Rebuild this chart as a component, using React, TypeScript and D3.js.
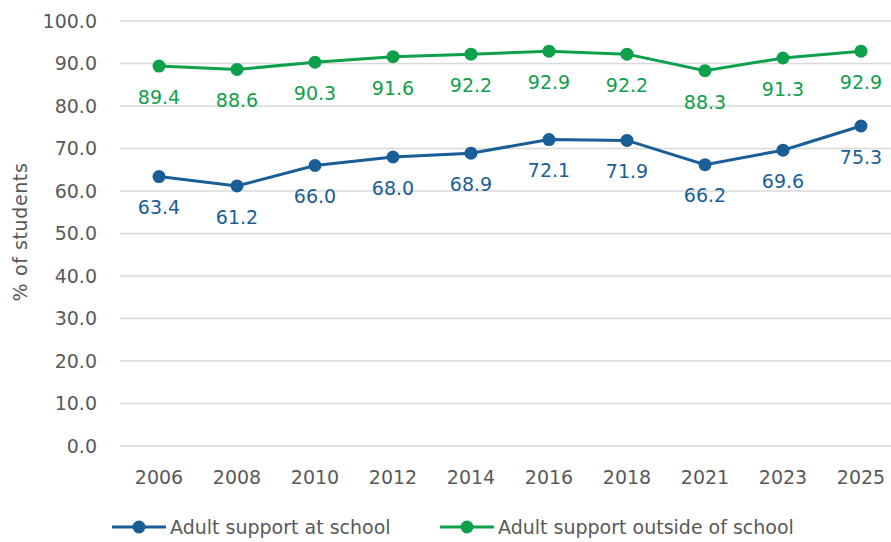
import React from "react";
import * as d3 from "d3";

const years = ["2006", "2008", "2010", "2012", "2014", "2016", "2018", "2021", "2023", "2025"];
const atSchool = [63.4, 61.2, 66.0, 68.0, 68.9, 72.1, 71.9, 66.2, 69.6, 75.3];
const outsideSchool = [89.4, 88.6, 90.3, 91.6, 92.2, 92.9, 92.2, 88.3, 91.3, 92.9];
const yTicks = [0, 10, 20, 30, 40, 50, 60, 70, 80, 90, 100];
const seriesNames = ["Adult support at school", "Adult support outside of school"];

const W = 891, H = 542;
const BLUE = "#195E97";
const GREEN = "#0EA04B";
const TEXT = "#595959";
const FONT = "'DejaVu Sans', sans-serif";
const FS = 19;

export default function App() {
  const x = d3.scaleBand<string>().domain(years).range([120, 900]);
  const y = d3.scaleLinear().domain([0, 100]).range([446, 21]);
  const cx = (d: string) => (x(d) ?? 0) + x.bandwidth() / 2;
  const line = d3.line<number>().x((_, i) => cx(years[i])).y((v) => y(v));
  const series = [
    { name: seriesNames[0], values: atSchool, color: BLUE },
    { name: seriesNames[1], values: outsideSchool, color: GREEN },
  ];
  const legend = [
    { x0: 112, color: BLUE, name: seriesNames[0] },
    { x0: 440, color: GREEN, name: seriesNames[1] },
  ];
  return (
    <svg width={W} height={H} style={{ position: "absolute", left: 0, top: 0, background: "#fff" }} fontFamily={FONT}>
      {yTicks.map((t) => (
        <g key={t}>
          <line x1={120} x2={891} y1={y(t)} y2={y(t)} stroke="#d9d9d9" strokeWidth={1.5} />
          <text x={97} y={y(t)} dy="0.36em" textAnchor="end" fontSize={FS} fill={TEXT}>
            {t.toFixed(1)}
          </text>
        </g>
      ))}
      <text transform={`translate(27,232) rotate(-90)`} textAnchor="middle" fontSize={FS} fill={TEXT} letterSpacing={0.6}>
        % of students
      </text>
      {years.map((yr) => (
        <text key={yr} x={cx(yr)} y={477} dy="0.36em" textAnchor="middle" fontSize={FS} fill={TEXT}>
          {yr}
        </text>
      ))}
      {series.map((s) => (
        <g key={s.name}>
          <path d={line(s.values) ?? ""} fill="none" stroke={s.color} strokeWidth={3} />
          {s.values.map((v, i) => (
            <g key={i}>
              <circle cx={cx(years[i])} cy={y(v)} r={6.5} fill={s.color} />
              <text x={cx(years[i])} y={y(v) + 31} dy="0.36em" textAnchor="middle" fontSize={FS} fill={s.color}>
                {v.toFixed(1)}
              </text>
            </g>
          ))}
        </g>
      ))}
      {legend.map((l) => (
        <g key={l.name}>
          <line x1={l.x0} x2={l.x0 + 54} y1={527} y2={527} stroke={l.color} strokeWidth={3} />
          <circle cx={l.x0 + 27} cy={527} r={6.5} fill={l.color} />
          <text x={l.x0 + 58} y={527} dy="0.36em" fontSize={FS} fill={TEXT}>
            {l.name}
          </text>
        </g>
      ))}
    </svg>
  );
}
